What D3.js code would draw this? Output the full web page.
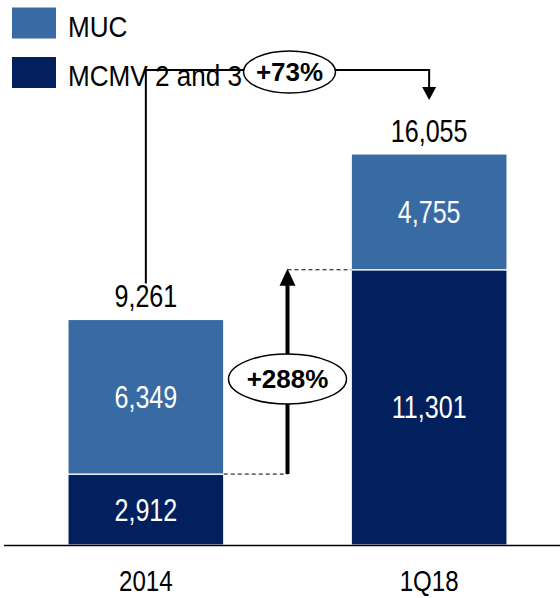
<!DOCTYPE html>
<html><head><meta charset="utf-8">
<script src="https://cdn.jsdelivr.net/npm/d3@7"></script>
<style>
body{margin:0;background:#fff;}
svg{display:block;font-family:"Liberation Sans",Arial,sans-serif;}
</style></head>
<body><svg id="c" width="560" height="598"></svg>
<script>
const categories = ["2014", "1Q18"];
const seriesNames = ["MCMV 2 and 3", "MUC"];
const mcmv = [2912, 11301];
const muc = [6349, 4755];
const totals = [9261, 16055];
const colors = ["#02205E", "#386BA4"];
const growthTotal = "+73%";
const growthMcmv = "+288%";

const NARROW = 0.81;
const svg = d3.select("#c");
const x = d3.scaleBand().domain(categories).range([4.2, 570.8]).paddingInner(0.45).paddingOuter(0.225);
const y = d3.scaleLinear().domain([0, 16055]).range([545, 154]);
const fmt = d3.format(",");

function ntext(sel, tx, ty, str, opts = {}) {
  const t = sel.append("text")
    .attr("transform", `translate(${tx},${ty}) scale(${opts.sx || NARROW},1)`)
    .attr("text-anchor", opts.anchor || "middle")
    .attr("font-size", opts.size || 30)
    .attr("fill", opts.fill || "#000")
    .text(str);
  if (opts.bold) t.attr("font-weight", "bold");
  return t;
}

const rows = categories.map((c, i) => ({cat: c, "MCMV 2 and 3": mcmv[i], "MUC": muc[i]}));
const stack = d3.stack().keys(seriesNames)(rows);

const g = svg.append("g");
stack.forEach((layer, li) => {
  g.selectAll(null).data(layer).join("rect")
    .attr("x", d => x(d.data.cat))
    .attr("width", x.bandwidth())
    .attr("y", d => y(d[1]))
    .attr("height", d => y(d[0]) - y(d[1]))
    .attr("fill", colors[li])
    .attr("stroke", "#fff").attr("stroke-width", 1.2);
  layer.forEach(d => {
    ntext(g, x(d.data.cat) + x.bandwidth() / 2, (y(d[0]) + y(d[1])) / 2 + 11,
      fmt(d[1] - d[0]), {fill: "#fff", size: 31});
  });
});

// totals
categories.forEach((c, i) => {
  ntext(svg, x(c) + x.bandwidth() / 2, y(totals[i]) - 12, fmt(totals[i]), {size: 31});
});

// axis
const axis = d3.axisBottom(x).tickSize(0).tickPadding(0);
const ax = svg.append("g").attr("transform", "translate(0,545)").call(axis);
ax.select(".domain").remove();
ax.selectAll(".tick text").remove();
ax.selectAll(".tick").each(function(c) {
  ntext(d3.select(this), 0, 46, c, {size: 29, sx: 0.83});
});
svg.append("line").attr("x1", 4).attr("x2", 560).attr("y1", 545.5).attr("y2", 545.5)
  .attr("stroke", "#000").attr("stroke-width", 1.5);

// legend
const leg = svg.append("g");
[["MUC", colors[1]], ["MCMV 2 and 3", colors[0]]].forEach((d, i) => {
  leg.append("rect").attr("x", 12).attr("y", 7.5 + i * 49.5).attr("width", 44).attr("height", 31).attr("fill", d[1]);
  ntext(leg, 68, 37 + i * 49, d[0], {size: 30, anchor: "start", sx: 0.87});
});

// +73% arrow
const cx0 = x("2014") + x.bandwidth() / 2, cx1 = x("1Q18") + x.bandwidth() / 2;
const topY = 70;
svg.append("path").attr("d", `M${cx0},${y(totals[0]) - 36}V${topY}H${cx1}V88`)
  .attr("fill", "none").attr("stroke", "#000").attr("stroke-width", 2);
svg.append("path").attr("d", `M${cx1 - 7},87L${cx1 + 7},87L${cx1},100Z`).attr("fill", "#000");
const ex = (cx0 + cx1) / 2 + 2;
svg.append("ellipse").attr("cx", ex).attr("cy", 72).attr("rx", 46).attr("ry", 21)
  .attr("fill", "#fff").attr("stroke", "#000").attr("stroke-width", 1.5);
ntext(svg, ex, 81, growthTotal, {size: 26, bold: true, sx: 1});

// +288% arrow
const midX = (x("2014") + x.bandwidth() + x("1Q18")) / 2;
const yLow = y(mcmv[0]), yHigh = y(mcmv[1]);
svg.append("line").attr("x1", x("2014") + x.bandwidth()).attr("x2", midX).attr("y1", yLow).attr("y2", yLow)
  .attr("stroke", "#000").attr("stroke-width", 1).attr("stroke-dasharray", "4,3");
svg.append("line").attr("x1", midX).attr("x2", x("1Q18")).attr("y1", yHigh).attr("y2", yHigh)
  .attr("stroke", "#000").attr("stroke-width", 1).attr("stroke-dasharray", "4,3");
svg.append("line").attr("x1", midX).attr("x2", midX).attr("y1", yLow).attr("y2", yHigh + 14)
  .attr("stroke", "#000").attr("stroke-width", 4);
svg.append("path").attr("d", `M${midX - 8},${yHigh + 16}L${midX + 8},${yHigh + 16}L${midX},${yHigh - 1}Z`).attr("fill", "#000");
svg.append("ellipse").attr("cx", midX).attr("cy", 379).attr("rx", 59).attr("ry", 25)
  .attr("fill", "#fff").attr("stroke", "#000").attr("stroke-width", 1.5);
ntext(svg, midX, 388, growthMcmv, {size: 26, bold: true, sx: 1});
</script></body></html>
